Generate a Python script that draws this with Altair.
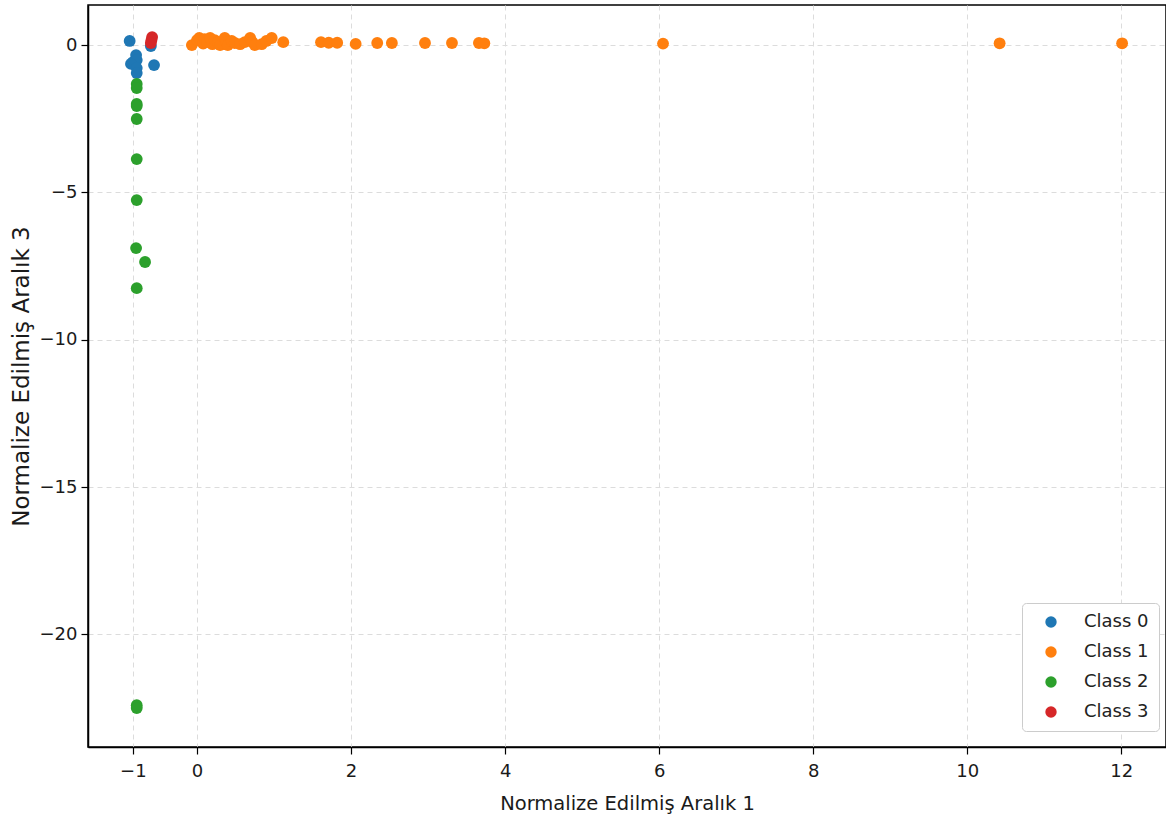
import altair as alt
import pandas as pd

classes = ["Class 0", "Class 1", "Class 2", "Class 3"]
colors = ["#1f77b4", "#ff7f0e", "#2ca02c", "#d62728"]

# Class 0 (blue)
x0 = [-1.05, -0.95, -1.0, -0.94, -1.03, -0.94, -0.94, -0.67, -0.72]
y0 = [0.14, -0.34, -0.58, -0.51, -0.64, -0.78, -0.95, -0.68, -0.03]

# Class 1 (orange)
x1 = [-0.08, 0.0, 0.03, 0.08, 0.10, 0.13, 0.17, 0.20, 0.23, 0.27, 0.30, 0.36,
      0.38, 0.40, 0.45, 0.49, 0.56, 0.62, 0.69, 0.72, 0.75, 0.84, 0.90, 0.97,
      1.12, 1.61, 1.71, 1.82, 2.06, 2.34, 2.53, 2.96, 3.31, 3.66, 3.73, 6.05,
      10.42, 12.01]
y1 = [0.0, 0.17, 0.24, 0.05, 0.20, 0.10, 0.24, 0.03, 0.17, 0.10, 0.0, 0.24,
      0.10, 0.0, 0.14, 0.07, 0.03, 0.10, 0.24, 0.10, 0.0, 0.03, 0.14, 0.24,
      0.10, 0.10, 0.08, 0.08, 0.04, 0.07, 0.07, 0.07, 0.07, 0.07, 0.06, 0.05,
      0.06, 0.06]

# Class 2 (green)
x2 = [-0.94, -0.94, -0.94, -0.94, -0.94, -0.94, -0.94, -0.95, -0.81, -0.94,
      -0.94, -0.94]
y2 = [-1.32, -1.46, -2.0, -2.07, -2.51, -3.87, -5.26, -6.89, -7.36, -8.25,
      -22.40, -22.50]

# Class 3 (red)
x3 = [-0.70, -0.71, -0.72]
y3 = [0.27, 0.17, 0.07]

x_ticks = [-1, 0, 2, 4, 6, 8, 10, 12]
y_ticks = [-20, -15, -10, -5, 0]

rows = []
for name, xs, ys in zip(classes, [x0, x1, x2, x3], [y0, y1, y2, y3]):
    for a, b in zip(xs, ys):
        rows.append({"x": a, "y": b, "cls": name})
df = pd.DataFrame(rows)

font = "DejaVu Sans"

chart = alt.Chart(df).mark_circle(size=140, opacity=1).encode(
    x=alt.X(
        "x:Q",
        scale=alt.Scale(domain=[-1.7, 0, 12.58], range=[0, 109, 1078], nice=False, zero=False),
        axis=alt.Axis(values=x_ticks, title="Normalize Edilmiş Aralık 1",
                      titleFontSize=19.5, labelFontSize=18, titlePadding=14, labelPadding=8),
    ),
    y=alt.Y(
        "y:Q",
        scale=alt.Scale(domain=[-23.82, 1.36], nice=False, zero=False),
        axis=alt.Axis(values=y_ticks, title="Normalize Edilmiş Aralık 3",
                      titleFontSize=23, labelFontSize=18, titlePadding=6, labelPadding=4),
    ),
    color=alt.Color(
        "cls:N",
        scale=alt.Scale(domain=classes, range=colors),
        legend=alt.Legend(
            title=None, orient="none", legendX=934, legendY=598,
            fillColor="white", strokeColor="#cccccc", cornerRadius=4,
            padding=10, symbolOffset=10, labelOffset=24, rowPadding=12,
            symbolSize=130, symbolType="circle", labelFontSize=18,
            labelFont=font, labelColor="#222222",
        ),
    ),
).properties(
    width=1078,
    height=742,
    padding={"left": 88, "top": 5, "right": 0, "bottom": 78},
    autosize="none",
).configure_view(
    stroke="black", strokeWidth=1.5
).configure_axis(
    domainColor="black", domainWidth=1.5, tickColor="black", tickSize=7,
    tickWidth=1.2, labelColor="#1a1a1a", titleColor="#1a1a1a",
    labelFont=font, titleFont=font, titleFontWeight="normal",
    gridColor="#dcdcdc", gridDash=[5, 4], gridWidth=1,
)

chart.save("out.html", embed_options={"renderer": "svg", "actions": False})
